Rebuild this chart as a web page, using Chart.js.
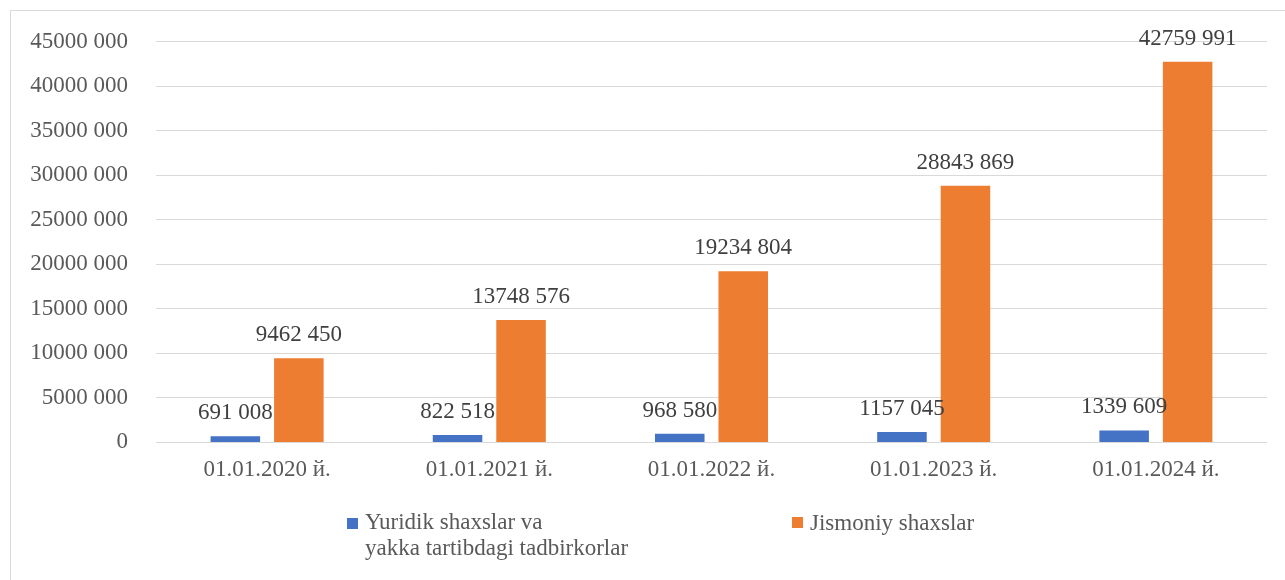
<!DOCTYPE html>
<html>
<head>
<meta charset="utf-8">
<script src="https://cdn.jsdelivr.net/npm/chart.js@4.4.0/dist/chart.umd.min.js"></script>
<style>
  html, body { margin: 0; padding: 0; background: #fff; }
  #wrap { position: relative; width: 1285px; height: 580px; overflow: hidden; }
  #frame {
    position: absolute; left: 10px; top: 10px; width: 1300px; height: 600px;
    border-left: 1px solid #d9d9d9; border-top: 1px solid #d9d9d9;
  }
  #myChart { position: absolute; left: 0; top: 0; }
  .legend-item {
    position: absolute; font-family: "Liberation Serif", "Times New Roman", serif;
    font-size: 23px; line-height: 26px; color: #595959; white-space: nowrap;
  }
  .legend-box { position: absolute; width: 11px; height: 11px; }
</style>
</head>
<body>
<div id="wrap">
  <div id="frame"></div>
  <canvas id="myChart" width="1285" height="580"></canvas>
  <div class="legend-box" style="left:347px; top:518px; background:#4472C4;"></div>
  <div class="legend-item" style="left:365px; top:509px;">Yuridik shaxslar va<br>yakka tartibdagi tadbirkorlar</div>
  <div class="legend-box" style="left:792px; top:517px; background:#ED7D31;"></div>
  <div class="legend-item" style="left:810px; top:510px;">Jismoniy shaxslar</div>
</div>
<script>
// Categories and series
const categories = ["01.01.2020 й.", "01.01.2021 й.", "01.01.2022 й.", "01.01.2023 й.", "01.01.2024 й."];
const yuridikValues = [691008, 822518, 968580, 1157045, 1339609];
const jismoniyValues = [9462450, 13748576, 19234804, 28843869, 42759991];
const seriesNames = ["Yuridik shaxslar va yakka tartibdagi tadbirkorlar", "Jismoniy shaxslar"];

const fontFamily = '"Liberation Serif", "Times New Roman", serif';

// 9462450 -> "9462 450"
function formatNum(v) {
  const s = String(Math.round(v));
  if (s.length <= 3) return s;
  return s.slice(0, -3) + " " + s.slice(-3);
}

// draw value labels above each bar
const barLabels = {
  id: "barLabels",
  afterDatasetsDraw(chart) {
    const ctx = chart.ctx;
    ctx.save();
    ctx.font = "23px " + fontFamily;
    ctx.fillStyle = "#404040";
    ctx.textAlign = "center";
    ctx.textBaseline = "alphabetic";
    chart.data.datasets.forEach((ds, i) => {
      const meta = chart.getDatasetMeta(i);
      meta.data.forEach((bar, j) => {
        ctx.fillText(formatNum(ds.data[j]), bar.x, bar.y - 17);
      });
    });
    ctx.restore();
  },
};

const ctx = document.getElementById("myChart").getContext("2d");

new Chart(ctx, {
  type: "bar",
  data: {
    labels: categories,
    datasets: [
      {
        label: seriesNames[0],
        data: yuridikValues,
        backgroundColor: "#4472C4",
        barPercentage: 0.78,
        categoryPercentage: 0.5715,
      },
      {
        label: seriesNames[1],
        data: jismoniyValues,
        backgroundColor: "#ED7D31",
        barPercentage: 0.78,
        categoryPercentage: 0.5715,
      },
    ],
  },
  options: {
    responsive: false,
    animation: false,
    layout: { padding: { left: 0, top: 39, right: 18, bottom: 82 } },
    plugins: {
      legend: { display: false },
      tooltip: { enabled: false },
    },
    scales: {
      x: {
        grid: { display: false, drawTicks: false },
        border: { display: false },
        ticks: {
          color: "#595959",
          padding: 14,
          font: { family: fontFamily, size: 23 },
        },
      },
      y: {
        min: 0,
        max: 45000000,
        afterFit: (scale) => { scale.width = 156; },
        grid: { color: "#d9d9d9", lineWidth: 1, drawTicks: false },
        border: { display: false },
        ticks: {
          stepSize: 5000000,
          color: "#595959",
          padding: 28,
          font: { family: fontFamily, size: 23 },
          callback: (v) => formatNum(v),
        },
      },
    },
  },
  plugins: [barLabels],
});
</script>
</body>
</html>
